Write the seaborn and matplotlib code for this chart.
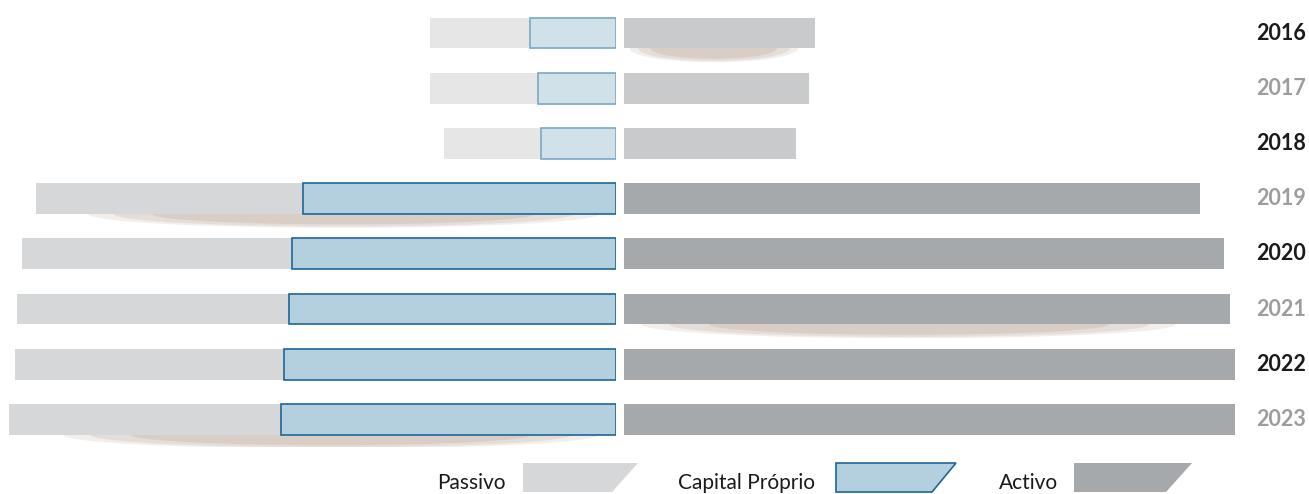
import seaborn as sns
import matplotlib.pyplot as plt
from matplotlib.patches import Ellipse, Polygon

years = ["2016", "2017", "2018", "2019", "2020", "2021", "2022", "2023"]
passivo = [186, 186, 172, 580, 594, 599, 601, 607]
capital = [86, 78, 75, 313, 324, 327, 332, 335]
activo = [191, 185, 172, 576, 600, 606, 611, 611]
shadow_left = ["2019", "2023"]
shadow_right = ["2016", "2021"]

faded = 3  # first three years drawn in lighter tones
c_pass = ["#e6e6e6"] * faded + ["#d6d7d9"] * (len(years) - faded)
c_cap = ["#d0e1ea"] * faded + ["#b4cfdd"] * (len(years) - faded)
e_cap = ["#7aa8c4"] * faded + ["#1f6699"] * (len(years) - faded)
c_act = ["#c9cacc"] * faded + ["#a6a9ac"] * (len(years) - faded)

sns.set_theme(style="white")
plt.rcParams["font.family"] = ["Lato", "DejaVu Sans"]

W, H = 1309, 494
fig = plt.figure(figsize=(W / 100, H / 100), dpi=100)
bot = 1 - 447 / H
hgt = (447 - 5.4) / H
axL = fig.add_axes([0, bot, 616 / W, hgt])
axR = fig.add_axes([624 / W, bot, (W - 624) / W, hgt])

bw = 0.56
sns.barplot(x=passivo, y=years, hue=years, palette=c_pass, orient="h", width=bw,
            saturation=1, legend=False, ax=axL, zorder=2, linewidth=0)
sns.barplot(x=capital, y=years, hue=years, palette=c_cap, orient="h", width=bw,
            saturation=1, legend=False, ax=axL, zorder=3, linewidth=1.2)
for p, ec in zip(axL.patches[len(years):], e_cap):
    p.set_edgecolor(ec)
sns.barplot(x=activo, y=years, hue=years, palette=c_act, orient="h", width=bw,
            saturation=1, legend=False, ax=axR, zorder=2, linewidth=0)

# soft shadows under some bars
for ax, vals, which in [(axL, passivo, shadow_left), (axR, activo, shadow_right)]:
    for i, y in enumerate(years):
        if y in which:
            v = vals[i]
            for k, a in [(1.0, 0.2), (0.9, 0.25), (0.75, 0.3)]:
                ax.add_patch(Ellipse((v * 0.47, i + bw / 2), v * 0.88 * k, 0.5 * k,
                                     color="#bfae9e", alpha=a, zorder=1, lw=0))

axL.set_xlim(616, 0)
axR.set_xlim(0, W - 624)
for ax in (axL, axR):
    ax.set_ylim(7.5, -0.5)
    ax.axis("off")

for i, y in enumerate(years):
    col = "#1a1a1a" if i % 2 == 0 else "#9d9d9d"
    axR.text(W - 624 - 3, i, y, ha="right", va="center", fontsize=15.5,
             fontweight="bold", color=col)

# legend with slanted swatches
def swatch(x0, x1, x2, fc, ec=None):
    y0, y1 = 1 - 492 / H, 1 - 463 / H
    pts = [(x0 / W, y0), (x0 / W, y1), (x1 / W, y1), (x2 / W, y0)]
    fig.patches.append(Polygon(pts, closed=True, transform=fig.transFigure,
                               fc=fc, ec=ec if ec else "none", lw=1.2))

ty = 1 - 483 / H
fig.text(437 / W, ty, "Passivo", fontsize=15, color="#1a1a1a", va="center")
swatch(523, 638, 612, "#d6d7d9")
fig.text(678 / W, ty, "Capital Próprio", fontsize=15, color="#1a1a1a", va="center")
swatch(836, 956, 932, "#b4cfdd", "#1f6699")
fig.text(999 / W, ty, "Activo", fontsize=15, color="#1a1a1a", va="center")
swatch(1074, 1192, 1166, "#a6a9ac")

fig.savefig("out.png", dpi=100)
